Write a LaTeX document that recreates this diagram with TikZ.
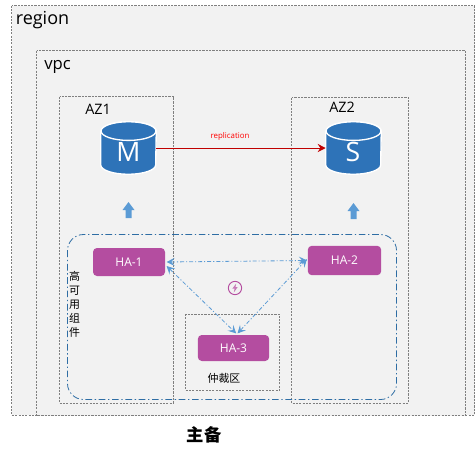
\documentclass[tikz,border=0pt]{standalone}
\usepackage{fontspec}
\setmainfont{Open Sans}
\newfontfamily\cjk{Noto Sans CJK SC}
\usetikzlibrary{arrows.meta}
\definecolor{zonefill}{HTML}{F2F2F2}
\definecolor{zoneline}{HTML}{7F7F7F}
\definecolor{dbblue}{HTML}{2E73B8}
\definecolor{arrowblue}{HTML}{5B9BD5}
\definecolor{groupblue}{HTML}{2E6DA4}
\definecolor{hapurple}{HTML}{B44DA0}
\definecolor{repred}{HTML}{C00000}
\tikzset{
  x=0.75pt,y=-0.75pt,
  zone/.style={draw=zoneline,fill=zonefill,line width=0.6pt,dash pattern=on 1.6pt off 0.9pt},
  subzone/.style={draw=zoneline,line width=0.6pt,dash pattern=on 1.6pt off 0.9pt},
  group/.style={draw=groupblue,line width=0.6pt,rounded corners=12pt,dash pattern=on 5pt off 2pt on 1pt off 2pt},
  dbframe/.style={minimum width=41.25pt,minimum height=39pt,inner sep=0pt},
  dbshape/.style={draw=white,line width=1pt,fill=dbblue},
  dbletter/.style={inner sep=0pt,text=white,font=\fontsize{20}{20}\selectfont},
  ha/.style={fill=hapurple,rounded corners=3pt,text=white,inner sep=0pt,font=\fontsize{9}{10}\selectfont},
  link/.style={draw=arrowblue,line width=0.6pt,dash pattern=on 3pt off 1.5pt on 0.8pt off 1.5pt,
    {Stealth[length=6pt,width=6pt,inset=2.5pt]}-{Stealth[length=6pt,width=6pt,inset=2.5pt]}},
  uparrow/.style={fill=arrowblue,draw=none},
  lbl/.style={inner sep=0pt,text=black},
}
% cylinder drawn inside the frame of a named node
\newcommand{\dbdraw}[1]{%
  \path[dbshape] ([yshift=-7pt]#1.north west) -- ([yshift=7pt]#1.south west)
    arc[start angle=180,end angle=360,x radius=20.6pt,y radius=7pt]
    -- ([yshift=-7pt]#1.north east)
    arc[start angle=0,end angle=180,x radius=20.6pt,y radius=7pt] -- cycle;
  \path[dbshape] ([yshift=-7pt]#1.north) ellipse[x radius=20.6pt,y radius=7pt];
}
\begin{document}
\begin{tikzpicture}
\useasboundingbox (0,0) rectangle (475,458);
% containers
\draw[zone] (11.5,5.5) rectangle (474.5,415);
\draw[zone] (36.5,50.5) rectangle (465.5,415.5);
\draw[subzone] (59.5,96.5) rectangle (173.5,403);
\draw[subzone] (291.5,97.5) rectangle (408.5,403);
\draw[subzone] (185.5,314) rectangle (279.5,390.5);
\draw[group] (67.5,234.5) rectangle (396.5,399.5);
% titles
\node[lbl,anchor=base west,font=\fontsize{13.5}{16}\selectfont] (region) at (15.5,24.5) {region};
\node[lbl,anchor=base west,font=\fontsize{12.5}{15}\selectfont] (vpc) at (44,69) {vpc};
\node[lbl,anchor=base west,font=\fontsize{10.8}{12}\selectfont] (az1) at (85,114) {AZ1};
\node[lbl,anchor=base west,font=\fontsize{10.8}{12}\selectfont] (az2) at (329,112) {AZ2};
% databases
\node[dbframe] (m) at (128.5,148) {};
\node[dbframe] (s) at (353.5,148) {};
\dbdraw{m}
\dbdraw{s}
\node[dbletter] (mtext) at (128.5,152) {M};
\node[dbletter] (stext) at (353,152) {S};
\draw[repred,line width=0.7pt,-{Stealth[length=6pt,width=6pt,inset=2pt]}] (m.east) -- (s.west);
\node[inner sep=0pt,text=red,font=\fontsize{5.9}{6}\selectfont] (rep) at (230,136) {replication};
% up arrows
\fill[uparrow] (128.5,202) -- (134.5,210) -- (131.5,210) -- (131.5,218) -- (125.5,218) -- (125.5,210) -- (122.5,210) -- cycle;
\fill[uparrow] (353.5,203) -- (359.5,211) -- (356.5,211) -- (356.5,219) -- (350.5,219) -- (350.5,211) -- (347.5,211) -- cycle;
% HA nodes
\node[ha,minimum width=54pt,minimum height=21pt] (ha1) at (129,262) {HA-1};
\node[ha,minimum width=55pt,minimum height=22pt] (ha2) at (344.5,260.5) {HA-2};
\node[ha,minimum width=53.5pt,minimum height=19.5pt] (ha3) at (233.5,348) {HA-3};
% links
\draw[link] ([xshift=1pt]ha1.east) -- ([xshift=-0.5pt]ha2.west);
\draw[link] ([xshift=1pt,yshift=-3pt]ha1.east) -- ([xshift=2pt,yshift=1pt]ha3.north);
\draw[link] ([xshift=3pt,yshift=1pt]ha3.north) -- ([xshift=-0.5pt,yshift=1pt]ha2.west);
% icon
\node[circle,draw=hapurple,line width=0.7pt,minimum size=10pt,inner sep=0pt] (icon) at (235,288) {};
\fill[hapurple!75] (236.2,283.5) -- (232.4,288.6) -- (234.6,288.6) -- (233.8,292.5) -- (237.6,287.2) -- (235.4,287.2) -- cycle;
% texts
\node[lbl,font=\cjk\fontsize{8.2}{10.4}\selectfont,align=center] (vert) at (74.7,304.5) {高\\可\\用\\组\\件};
\node[lbl,font=\cjk\fontsize{8.2}{10}\selectfont] (arb) at (224,378) {仲裁区};
\node[lbl,font=\cjk\bfseries\fontsize{13}{15}\selectfont] (title) at (204,435) {主备};
\end{tikzpicture}
\end{document}
